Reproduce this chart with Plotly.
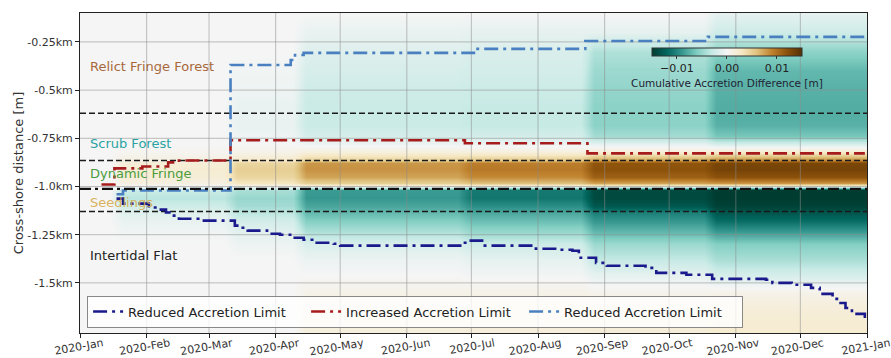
import numpy as np
import pandas as pd
import plotly.graph_objects as go

# ---- cumulative accretion difference grid (m) ----
# cross-shore rows (km) of the difference field
depth_km = [-0.10, -0.20, -0.30, -0.40, -0.50, -0.60, -0.68, -0.74, -0.78, -0.82,
            -0.86, -0.88, -0.91, -0.95, -0.98, -1.00, -1.02, -1.06, -1.10, -1.13,
            -1.18, -1.24, -1.30, -1.38, -1.46, -1.55, -1.65, -1.76]

# output periods of the model run
period_start = ["2020-01-01", "2020-01-18", "2020-03-11", "2020-04-12",
                "2020-06-28", "2020-08-24", "2020-10-20"]
period_end = ["2020-01-18", "2020-03-11", "2020-04-12", "2020-06-28",
              "2020-08-24", "2020-10-20", "2021-01-01"]

diff_p1 = [0.0] * 28
diff_p2 = [0.0, 0.0, 0.0, 0.0, 0.0, 0.0, 0.0, 0.0, 0.0, 0.0003,
           0.0012, 0.0018, 0.0020, 0.0018, 0.0012, 0.0, -0.0028, -0.0035, -0.0025, -0.0015,
           -0.0008, -0.0003, 0.0, 0.0, 0.0, 0.0, 0.0, 0.0]
diff_p3 = [0.0, 0.0, 0.0, -0.0003, -0.0005, -0.0008, -0.0008, -0.0005, 0.0, 0.0008,
           0.0025, 0.0045, 0.0050, 0.0045, 0.0030, 0.0005, -0.0042, -0.0050, -0.0045, -0.0035,
           -0.0022, -0.0012, -0.0005, 0.0, 0.0, 0.0, 0.0, 0.0]
diff_p4 = [0.0, -0.0008, -0.0015, -0.0020, -0.0025, -0.0028, -0.0028, -0.0020, -0.0005, 0.0015,
           0.0048, 0.0080, 0.0082, 0.0074, 0.0050, 0.0010, -0.0088, -0.0090, -0.0082, -0.0072,
           -0.0058, -0.0038, -0.0018, -0.0006, 0.0, 0.0008, 0.0012, 0.0015]
diff_p5 = [0.0, -0.0010, -0.0018, -0.0022, -0.0027, -0.0030, -0.0030, -0.0022, -0.0006, 0.0015,
           0.0055, 0.0092, 0.0095, 0.0086, 0.0060, 0.0010, -0.0108, -0.0110, -0.0095, -0.0082,
           -0.0068, -0.0048, -0.0025, -0.0010, -0.0002, 0.0008, 0.0014, 0.0016]
diff_p6 = [0.0, -0.0010, -0.0040, -0.0048, -0.0052, -0.0055, -0.0055, -0.0045, -0.0010, 0.0020,
           0.0075, 0.0118, 0.0120, 0.0110, 0.0075, 0.0015, -0.0140, -0.0140, -0.0130, -0.0105,
           -0.0090, -0.0070, -0.0048, -0.0030, -0.0010, 0.0006, 0.0014, 0.0018]
diff_p7 = [-0.0010, -0.0025, -0.0055, -0.0072, -0.0076, -0.0078, -0.0076, -0.0063, -0.0020, 0.0025,
           0.0085, 0.0130, 0.0132, 0.0120, 0.0080, 0.0015, -0.0150, -0.0150, -0.0146, -0.0132,
           -0.0115, -0.0085, -0.0058, -0.0042, -0.0020, 0.0008, 0.0018, 0.0022]
period_diffs = [diff_p1, diff_p2, diff_p3, diff_p4, diff_p5, diff_p6, diff_p7]

# ---- accretion limit lines ----
navy_dates = ["2020-01-18", "2020-01-21", "2020-02-02", "2020-02-07", "2020-02-10",
              "2020-02-13", "2020-02-16", "2020-02-25", "2020-03-13", "2020-03-15",
              "2020-03-19", "2020-03-28", "2020-04-03", "2020-04-09", "2020-04-14",
              "2020-04-18", "2020-04-28", "2020-05-01", "2020-06-28", "2020-06-30",
              "2020-07-06", "2020-07-31", "2020-08-11", "2020-08-17", "2020-08-20",
              "2020-08-28", "2020-09-02", "2020-09-20", "2020-09-25", "2020-10-09",
              "2020-10-21", "2020-11-15", "2020-11-18", "2020-11-27", "2020-12-06",
              "2020-12-10", "2020-12-16", "2020-12-19", "2020-12-22", "2020-12-25",
              "2020-12-31"]
navy_km = [-1.063, -1.089, -1.109, -1.120, -1.135,
           -1.151, -1.167, -1.177, -1.203, -1.214,
           -1.229, -1.245, -1.250, -1.266, -1.276,
           -1.292, -1.297, -1.307, -1.292, -1.281,
           -1.307, -1.323, -1.328, -1.333, -1.370,
           -1.396, -1.411, -1.422, -1.448, -1.458,
           -1.479, -1.484, -1.500, -1.510, -1.526,
           -1.557, -1.583, -1.604, -1.630, -1.661,
           -1.682]

red_dates = ["2020-01-11", "2020-01-17", "2020-01-30", "2020-02-11", "2020-02-16",
             "2020-03-11", "2020-06-28", "2020-08-24", "2020-12-31"]
red_km = [-0.990, -0.906, -0.896, -0.875, -0.865, -0.760, -0.776, -0.828, -0.828]

blue_dates = ["2020-01-18", "2020-01-21", "2020-03-11", "2020-04-08", "2020-04-10",
              "2020-04-14", "2020-07-03", "2020-08-23", "2020-10-19", "2020-12-31"]
blue_km = [-1.040, -1.021, -0.370, -0.344, -0.318, -0.307, -0.286, -0.245, -0.224, -0.224]

# zone boundaries
zone_bounds_km = [-0.620, -0.865, -1.130]
shoreline_km = -1.012

zone_names = ["Relict Fringe Forest", "Scrub Forest", "Dynamic Fringe", "Seedlings", "Intertidal Flat"]
zone_label_km = [-0.375, -0.776, -0.932, -1.083, -1.359]
zone_colors = ["#a8683a", "#2aa3a3", "#4a9c3c", "rgba(214,170,75,0.9)", "#222222"]

# axis ticks
month_ticks = pd.date_range("2020-01-01", "2021-01-01", freq="MS")
month_labels = [d.strftime("%Y-%b") for d in month_ticks]
y_ticks = [-0.25, -0.5, -0.75, -1.0, -1.25, -1.5]
y_labels = ["-0.25km", "-0.5km", "-0.75km", "-1.0km", "-1.25km", "-1.5km"]
x_range = ["2020-01-01", "2021-01-01"]
y_range = [-1.76, -0.10]

FONT = "DejaVu Sans"

# build the grid: each period held constant, short ramp between periods
ramp = pd.Timedelta(days=3)
grid_x, grid_cols = [], []
for s, e, col in zip(period_start, period_end, period_diffs):
    grid_x += [pd.Timestamp(s) + ramp, pd.Timestamp(e) - ramp]
    grid_cols += [col, col]
z = np.array(grid_cols).T

fig = go.Figure()
fig.add_trace(go.Heatmap(
    x=grid_x, y=depth_km, z=z, zsmooth="best",
    colorscale="BrBG", reversescale=True, zmin=-0.015, zmax=0.015,
    showscale=True, hoverinfo="skip",
    colorbar=dict(
        orientation="h", lenmode="pixels", len=150, thickness=8,
        x=0.822, xanchor="center", y=0.891, yanchor="top", ypad=0, xpad=0,
        tickvals=[-0.01, 0.0, 0.01], ticktext=["\u22120.01", "0.00", "0.01"],
        ticks="outside", ticklen=3, tickcolor="#333",
        tickfont=dict(family=FONT, size=11, color="#222"),
        outlinewidth=1, outlinecolor="#333",
        title=dict(text="Cumulative Accretion Difference [m]", side="bottom",
                   font=dict(family=FONT, size=10.5, color="#223")),
    ),
))

# grid lines drawn over the field
grid_style = dict(color="rgba(140,140,140,0.55)", width=1)
for t in month_ticks[1:-1]:
    fig.add_trace(go.Scatter(x=[t, t], y=y_range, mode="lines", line=grid_style,
                             showlegend=False, hoverinfo="skip"))
for v in y_ticks:
    fig.add_trace(go.Scatter(x=x_range, y=[v, v], mode="lines", line=grid_style,
                             showlegend=False, hoverinfo="skip"))

# zone boundaries
for b in zone_bounds_km:
    fig.add_trace(go.Scatter(x=x_range, y=[b, b], mode="lines",
                             line=dict(color="#1a1a1a", width=1.5, dash="6px,3px"),
                             showlegend=False, hoverinfo="skip"))

dashdot = "14px,5px,3px,5px"
fig.add_trace(go.Scatter(x=navy_dates, y=navy_km, mode="lines", line_shape="hv",
                         name="Reduced Accretion Limit",
                         line=dict(color="#1a1a8c", width=2.6, dash=dashdot)))
fig.add_trace(go.Scatter(x=red_dates, y=red_km, mode="lines", line_shape="hv",
                         name="Increased Accretion Limit",
                         line=dict(color="#a61c1c", width=2.6, dash=dashdot)))
fig.add_trace(go.Scatter(x=blue_dates, y=blue_km, mode="lines", line_shape="hv",
                         name="Reduced Accretion Limit",
                         line=dict(color="#4a80c0", width=2.6, dash=dashdot)))
fig.add_trace(go.Scatter(x=x_range, y=[shoreline_km, shoreline_km], mode="lines",
                         line=dict(color="#111111", width=2.2, dash="11px,4px,3px,4px"),
                         showlegend=False, hoverinfo="skip"))

for name, yk, c in zip(zone_names, zone_label_km, zone_colors):
    fig.add_annotation(x=0.01, xref="paper", y=yk, yref="y", text=name,
                       showarrow=False, xanchor="left", yanchor="middle",
                       font=dict(family=FONT, size=13, color=c))

fig.update_layout(
    width=891, height=358,
    margin=dict(l=80, r=24, t=13, b=25, autoexpand=False),
    paper_bgcolor="white", plot_bgcolor="white",
    font=dict(family=FONT, size=11, color="#333"),
    showlegend=True,
    legend=dict(orientation="h", x=0.009, y=0.017, xanchor="left", yanchor="bottom",
                entrywidth=173, entrywidthmode="pixels",
                bgcolor="rgba(255,255,255,0.8)", bordercolor="#888", borderwidth=1,
                font=dict(family=FONT, size=13, color="#222")),
    xaxis=dict(type="date", range=x_range, tickvals=month_ticks, ticktext=month_labels,
               tickangle=-10, ticklabelshift=23, ticklabelstandoff=-5,
               ticklabeloverflow="allow",
               ticks="outside", ticklen=4, tickcolor="#222",
               showline=True, linecolor="#222", linewidth=1, mirror=True,
               showgrid=False, zeroline=False, automargin=False,
               tickfont=dict(family=FONT, size=11, color="#333")),
    yaxis=dict(range=y_range, tickvals=y_ticks, ticktext=y_labels,
               ticks="outside", ticklen=4, tickcolor="#222",
               showline=True, linecolor="#222", linewidth=1, mirror=True,
               showgrid=False, zeroline=False, automargin=False,
               tickfont=dict(family=FONT, size=11, color="#333"),
               title=dict(text="Cross-shore distance [m]", standoff=0,
                          font=dict(family=FONT, size=13, color="#333"))),
)

fig.write_html("out.html")
